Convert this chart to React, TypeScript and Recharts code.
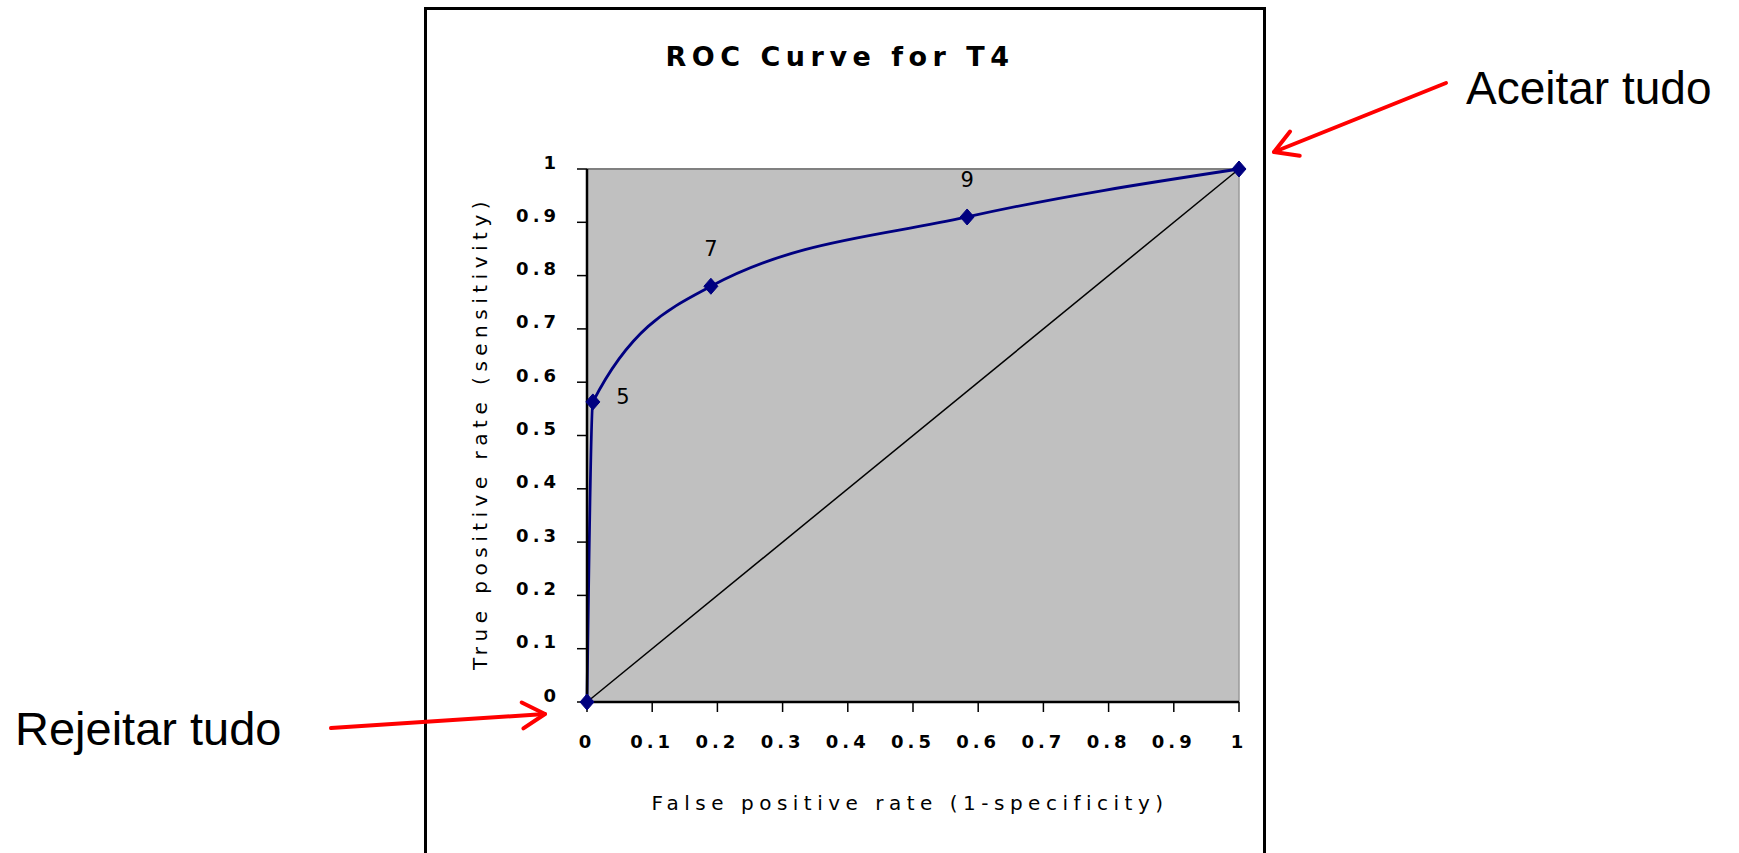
import React from 'react';
import { LineChart, Line, XAxis, YAxis, CartesianGrid, ReferenceLine, LabelList } from 'recharts';

// ROC curve points (false positive rate, true positive rate) and threshold labels
const fpr = [0, 0.009, 0.19, 0.583, 1];
const tpr = [0, 0.563, 0.78, 0.91, 1];
const thresholdLabels = ['', '5', '7', '9', ''];

// chance diagonal
const chanceX = [0, 1];
const chanceY = [0, 1];

// axis ticks
const axisTicks = [0, 0.1, 0.2, 0.3, 0.4, 0.5, 0.6, 0.7, 0.8, 0.9, 1];
const tickLabels = ['0', '0.1', '0.2', '0.3', '0.4', '0.5', '0.6', '0.7', '0.8', '0.9', '1'];

const chartTitle = 'ROC Curve for T4';
const xTitle = 'False positive rate (1-specificity)';
const yTitle = 'True positive rate (sensitivity)';
const acceptAll = 'Aceitar tudo';
const rejectAll = 'Rejeitar tudo';

const rocData = fpr.map((x, i) => ({ x, y: tpr[i], label: thresholdLabels[i] }));
const chanceData = chanceX.map((x, i) => ({ x, y: chanceY[i] }));

const bitmapFont = '"DejaVu Sans", Verdana, sans-serif';
const arialFont = '"Liberation Sans", Arial, Helvetica, sans-serif';

const labelFor = (v: number) => {
  const i = axisTicks.findIndex((t) => Math.abs(t - v) < 1e-9);
  return i >= 0 ? tickLabels[i] : String(v);
};

const YTick = (props: any) => {
  const { x, y, payload } = props;
  return (
    <text
      x={x - 15}
      y={y - 7}
      textAnchor="end"
      dominantBaseline="central"
      fontFamily={bitmapFont}
      fontSize={18}
      fontWeight="bold"
      letterSpacing={4}
      fill="#000"
    >
      {labelFor(payload.value)}
    </text>
  );
};

const XTick = (props: any) => {
  const { x, y, payload } = props;
  return (
    <text
      x={x}
      y={y + 27}
      textAnchor="middle"
      dominantBaseline="central"
      fontFamily={bitmapFont}
      fontSize={18}
      fontWeight="bold"
      letterSpacing={4}
      fill="#000"
    >
      {labelFor(payload.value)}
    </text>
  );
};

const Diamond = (props: any) => {
  const { cx, cy, index } = props;
  if (cx == null || cy == null) return null;
  return (
    <path
      key={`d-${index}`}
      d={`M${cx},${cy - 8} L${cx + 7},${cy} L${cx},${cy + 8} L${cx - 7},${cy} Z`}
      fill="#000080"
      stroke="#000080"
      strokeWidth={1}
    />
  );
};

const PointLabel = (props: any) => {
  const { x, y, value, index } = props;
  if (!value) return null;
  const right = index === 1;
  return (
    <text
      key={`l-${index}`}
      x={right ? x + 30 : x}
      y={right ? y - 5 : y - 37}
      textAnchor="middle"
      dominantBaseline="central"
      fontFamily={bitmapFont}
      fontSize={21}
      fill="#000"
    >
      {value}
    </text>
  );
};

const Arrow = ({ x1, y1, x2, y2 }: { x1: number; y1: number; x2: number; y2: number }) => {
  const ang = Math.atan2(y2 - y1, x2 - x1);
  const L = 26;
  const a = Math.PI / 6;
  const p1 = [x2 - L * Math.cos(ang - a), y2 - L * Math.sin(ang - a)];
  const p2 = [x2 - L * Math.cos(ang + a), y2 - L * Math.sin(ang + a)];
  return (
    <g stroke="#ff0000" strokeWidth={4} fill="none" strokeLinecap="round" strokeLinejoin="round">
      <line x1={x1} y1={y1} x2={x2} y2={y2} />
      <polyline points={`${p1[0]},${p1[1]} ${x2},${y2} ${p2[0]},${p2[1]}`} />
    </g>
  );
};

export default function App() {
  return (
    <div
      style={{
        position: 'absolute',
        left: 0,
        top: 0,
        width: 1739,
        height: 853,
        overflow: 'hidden',
        background: '#fff',
      }}
    >
      {/* chart frame */}
      <div
        style={{
          position: 'absolute',
          left: 424,
          top: 7,
          width: 842,
          height: 1000,
          border: '3px solid #000',
          boxSizing: 'border-box',
        }}
      />
      <div style={{ position: 'absolute', left: 0, top: 0 }}>
        <LineChart
          width={1739}
          height={853}
          margin={{ top: 169, right: 500, bottom: 91, left: 527 }}
        >
          <CartesianGrid horizontal={false} vertical={false} fill="#c0c0c0" fillOpacity={1} />
          <XAxis
            type="number"
            dataKey="x"
            domain={[0, 1]}
            ticks={axisTicks}
            interval={0}
            height={60}
            tickSize={10}
            axisLine={{ stroke: '#000', strokeWidth: 2.5 }}
            tickLine={{ stroke: '#000', strokeWidth: 1.5 }}
            tick={<XTick />}
          />
          <YAxis
            type="number"
            dataKey="y"
            domain={[0, 1]}
            ticks={axisTicks}
            interval={0}
            width={60}
            tickSize={10}
            axisLine={{ stroke: '#000', strokeWidth: 2.5 }}
            tickLine={{ stroke: '#000', strokeWidth: 1.5 }}
            tick={<YTick />}
          />
          <ReferenceLine y={1} stroke="#808080" strokeWidth={2} />
          <ReferenceLine x={1} stroke="#9a9a9a" strokeWidth={1.5} />
          <Line
            data={chanceData}
            dataKey="y"
            type="linear"
            stroke="#000"
            strokeWidth={1.5}
            dot={false}
            activeDot={false}
            isAnimationActive={false}
          />
          <Line
            data={rocData}
            dataKey="y"
            type="monotone"
            stroke="#000080"
            strokeWidth={2.8}
            dot={<Diamond />}
            activeDot={false}
            isAnimationActive={false}
          >
            <LabelList dataKey="label" content={<PointLabel />} />
          </Line>
        </LineChart>
      </div>
      {/* titles and annotations */}
      <svg
        width={1739}
        height={853}
        style={{ position: 'absolute', left: 0, top: 0, pointerEvents: 'none' }}
      >
        <text
          x={840}
          y={56}
          textAnchor="middle"
          dominantBaseline="central"
          fontFamily={bitmapFont}
          fontSize={27}
          fontWeight="bold"
          letterSpacing={5.5}
          fill="#000"
        >
          {chartTitle}
        </text>
        <text
          x={910}
          y={803}
          textAnchor="middle"
          dominantBaseline="central"
          fontFamily={bitmapFont}
          fontSize={20}
          letterSpacing={5.5}
          fill="#000"
        >
          {xTitle}
        </text>
        <text
          x={0}
          y={0}
          transform="translate(480,433) rotate(-90)"
          textAnchor="middle"
          dominantBaseline="central"
          fontFamily={bitmapFont}
          fontSize={20}
          letterSpacing={5.5}
          fill="#000"
        >
          {yTitle}
        </text>
        <text x={1466} y={104} fontFamily={arialFont} fontSize={46} fill="#000">
          {acceptAll}
        </text>
        <text x={15} y={745} fontFamily={arialFont} fontSize={47} fill="#000">
          {rejectAll}
        </text>
        <Arrow x1={1446} y1={83} x2={1274} y2={152} />
        <Arrow x1={331} y1={728} x2={545} y2={714} />
      </svg>
    </div>
  );
}
